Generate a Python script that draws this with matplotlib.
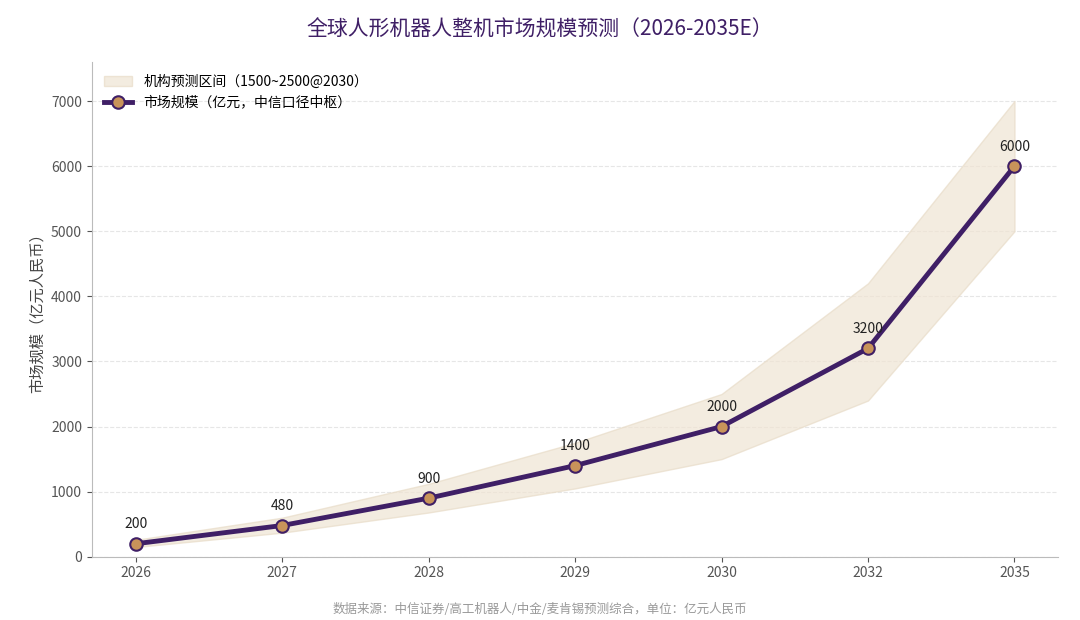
import matplotlib.pyplot as plt

plt.rcParams['font.family'] = ['Noto Sans CJK SC', 'DejaVu Sans']

years = ["2026", "2027", "2028", "2029", "2030", "2032", "2035"]
market = [200, 480, 900, 1400, 2000, 3200, 6000]
band_low = [150, 370, 680, 1050, 1500, 2400, 5000]
band_high = [260, 600, 1120, 1750, 2500, 4200, 7000]

fig = plt.figure(figsize=(10.8, 6.2), dpi=100)
ax = fig.add_axes([0.085, 0.102, 0.895, 0.798])

x = list(range(len(years)))
ax.fill_between(x, band_low, band_high, color="#efe4d3", alpha=0.7,
                edgecolor="#e8dcc8", label="机构预测区间（1500~2500@2030）")
ax.plot(x, market, color="#3f1f66", linewidth=3.5, marker="o", markersize=9,
        markerfacecolor="#c8935a", markeredgecolor="#3f1f66", markeredgewidth=1.5,
        label="市场规模（亿元，中信口径中枢）", zorder=3)
for xi, v in zip(x, market):
    ax.annotate(str(v), (xi, v), xytext=(0, 9), textcoords="offset points",
                ha="center", va="bottom", fontsize=10, color="#222222")

ax.set_xticks(x)
ax.set_xticklabels(years)
ax.set_xlim(-0.3, len(years) - 0.7)
ax.set_ylim(0, 7600)
ax.set_yticks(range(0, 7001, 1000))
ax.tick_params(colors="#555555", labelsize=10)
ax.set_ylabel("市场规模（亿元人民币）", fontsize=11, color="#444444")
ax.grid(axis="y", linestyle="--", color="#e6e6e6", linewidth=0.8)
ax.set_axisbelow(True)
for s in ["top", "right"]:
    ax.spines[s].set_visible(False)
for s in ["left", "bottom"]:
    ax.spines[s].set_color("#bbbbbb")

ax.legend(loc="upper left", frameon=False, fontsize=10)
fig.suptitle("全球人形机器人整机市场规模预测（2026-2035E）", fontsize=15,
             color="#3f1f66", y=0.97)
fig.text(0.5, 0.012, "数据来源：中信证券/高工机器人/中金/麦肯锡预测综合，单位：亿元人民币",
         ha="center", fontsize=9, color="#999999")

fig.savefig("out.png")
